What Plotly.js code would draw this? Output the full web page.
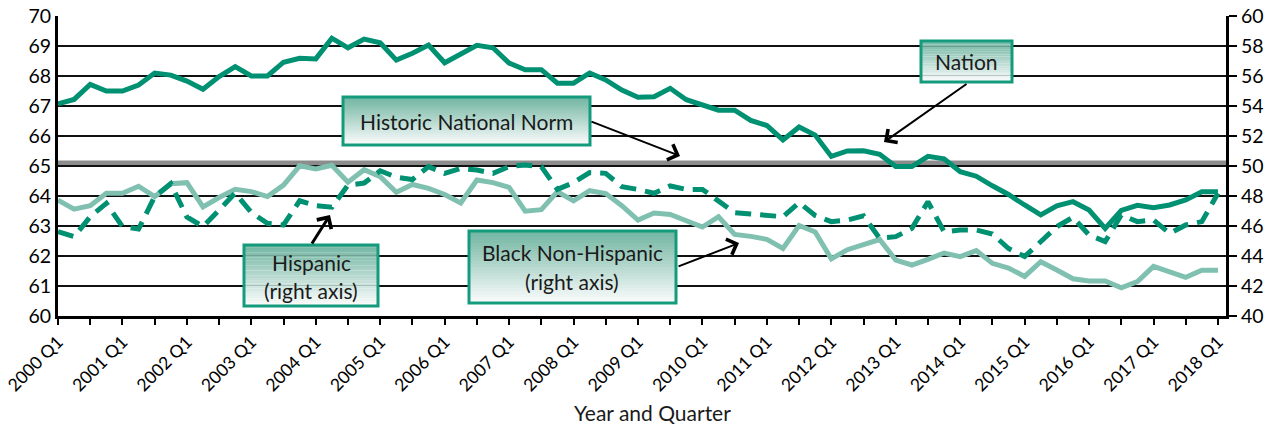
<!DOCTYPE html>
<html>
<head>
<meta charset="utf-8">
<script src="https://cdn.plot.ly/plotly-3.0.1.min.js"></script>
<style>
  html, body { margin: 0; padding: 0; background: #fff; }
  #chart { width: 1271px; height: 430px; }
</style>
</head>
<body>
<div id="chart"></div>
<script>
// ---------- DATA ----------
const quarters = [
  "2000 Q1","2000 Q2","2000 Q3","2000 Q4","2001 Q1","2001 Q2","2001 Q3","2001 Q4",
  "2002 Q1","2002 Q2","2002 Q3","2002 Q4","2003 Q1","2003 Q2","2003 Q3","2003 Q4",
  "2004 Q1","2004 Q2","2004 Q3","2004 Q4","2005 Q1","2005 Q2","2005 Q3","2005 Q4",
  "2006 Q1","2006 Q2","2006 Q3","2006 Q4","2007 Q1","2007 Q2","2007 Q3","2007 Q4",
  "2008 Q1","2008 Q2","2008 Q3","2008 Q4","2009 Q1","2009 Q2","2009 Q3","2009 Q4",
  "2010 Q1","2010 Q2","2010 Q3","2010 Q4","2011 Q1","2011 Q2","2011 Q3","2011 Q4",
  "2012 Q1","2012 Q2","2012 Q3","2012 Q4","2013 Q1","2013 Q2","2013 Q3","2013 Q4",
  "2014 Q1","2014 Q2","2014 Q3","2014 Q4","2015 Q1","2015 Q2","2015 Q3","2015 Q4",
  "2016 Q1","2016 Q2","2016 Q3","2016 Q4","2017 Q1","2017 Q2","2017 Q3","2017 Q4",
  "2018 Q1"
];

// Nation (left axis)
const nation = [
  67.07, 67.22, 67.72, 67.50, 67.50, 67.70, 68.10, 68.03, 67.83, 67.56,
  67.98, 68.31, 68.00, 68.00, 68.46, 68.59, 68.57, 69.26, 68.94, 69.23,
  69.11, 68.53, 68.76, 69.03, 68.44, 68.73, 69.02, 68.94, 68.43, 68.21,
  68.21, 67.76, 67.76, 68.10, 67.87, 67.53, 67.29, 67.31, 67.59, 67.21,
  67.05, 66.86, 66.86, 66.52, 66.35, 65.87, 66.30, 66.03, 65.32, 65.50,
  65.51, 65.39, 64.98, 64.98, 65.32, 65.24, 64.81, 64.66, 64.34, 64.05,
  63.70, 63.37, 63.67, 63.81, 63.53, 62.92, 63.52, 63.69, 63.61, 63.70,
  63.87, 64.14, 64.14
];

// Black Non-Hispanic (right axis)
const blackNonHispanic = [
  47.73, 47.12, 47.35, 48.18, 48.18, 48.65, 47.96, 48.82, 48.89, 47.27,
  47.90, 48.45, 48.29, 47.96, 48.73, 50.01, 49.80, 50.05, 48.92, 49.75,
  49.29, 48.25, 48.77, 48.51, 48.10, 47.53, 49.07, 48.89, 48.57, 46.99,
  47.09, 48.29, 47.68, 48.35, 48.16, 47.35, 46.40, 46.87, 46.77, 46.35,
  45.93, 46.62, 45.44, 45.31, 45.11, 44.51, 46.03, 45.60, 43.81, 44.42,
  44.73, 45.10, 43.73, 43.40, 43.78, 44.20, 43.96, 44.36, 43.51, 43.20,
  42.64, 43.62, 43.07, 42.48, 42.33, 42.33, 41.88, 42.30, 43.31, 42.96,
  42.58, 43.05, 43.05
];

// Hispanic (right axis)
const hispanic = [
  45.62, 45.29, 46.62, 47.51, 45.96, 45.80, 47.96, 48.82, 46.60, 45.96,
  47.07, 48.20, 46.90, 46.18, 46.07, 47.68, 47.35, 47.25, 48.73, 48.86,
  49.68, 49.25, 49.10, 49.96, 49.51, 49.84, 49.73, 49.51, 49.96, 50.07,
  49.96, 48.44, 48.89, 49.56, 49.51, 48.62, 48.44, 48.18, 48.67, 48.44,
  48.44, 47.62, 46.89, 46.80, 46.73, 46.62, 47.56, 46.70, 46.29, 46.40,
  46.67, 45.18, 45.29, 45.84, 47.62, 45.62, 45.73, 45.73, 45.47, 44.50,
  43.96, 44.96, 45.96, 46.58, 45.40, 44.96, 46.73, 46.29, 46.40, 45.51,
  46.07, 46.29, 48.18
];

const historicNationalNorm = 65.1;

const leftAxisTicks = [60, 61, 62, 63, 64, 65, 66, 67, 68, 69, 70];
const rightAxisTicks = [40, 42, 44, 46, 48, 50, 52, 54, 56, 58, 60];

// ---------- STYLE ----------
const FONT = "Lato, 'Open Sans', sans-serif";
const TEAL = "rgb(0,144,114)";
const LIGHT_TEAL = "rgb(128,192,176)";
const BOX_BORDER = "rgb(20,155,125)";

const W = 1271, H = 430;
const M = {l: 58, r: 45, t: 16, b: 114};
const PW = W - M.l - M.r, PH = H - M.t - M.b;
const px2x = px => (px - M.l) / PW;
const py2y = py => (H - M.b - py) / PH;

// x ticks every 2 quarters, labelled every year
const tickVals = quarters.filter((q, i) => i % 2 === 0);
const tickText = quarters.map((q, i) => (i % 4 === 0 ? q : "")).filter((q, i) => i % 2 === 0);

const traces = [
  {
    x: quarters, y: blackNonHispanic, yaxis: "y2", type: "scatter", mode: "lines",
    name: "Black Non-Hispanic", line: {color: LIGHT_TEAL, width: 5}, hoverinfo: "skip"
  },
  {
    x: quarters, y: hispanic, yaxis: "y2", type: "scatter", mode: "lines",
    name: "Hispanic", line: {color: TEAL, width: 5, dash: "16px,9px"}, hoverinfo: "skip"
  },
  {
    x: quarters, y: nation, yaxis: "y", type: "scatter", mode: "lines",
    name: "Nation", line: {color: TEAL, width: 5}, hoverinfo: "skip"
  }
];

const shapes = [
  {
    type: "line", xref: "paper", yref: "y", x0: 0, x1: 1,
    y0: historicNationalNorm, y1: historicNationalNorm,
    line: {color: "rgb(140,140,140)", width: 5}, layer: "between"
  }
];

// gradient boxes (pixel boxes -> paper coords)
function gradientBox(x0, y0, x1, y1) {
  const n = 24;
  const top = [112, 180, 161], bot = [252, 253, 253];
  for (let k = 0; k < n; k++) {
    const t = (k + 0.5) / n;
    const c = top.map((v, j) => Math.round(v + (bot[j] - v) * t));
    shapes.push({
      type: "rect", xref: "paper", yref: "paper", layer: "above",
      x0: px2x(x0), x1: px2x(x1),
      y0: py2y(y0 + (y1 - y0) * (k + 1) / n) - 0.0005, y1: py2y(y0 + (y1 - y0) * k / n),
      fillcolor: `rgb(${c[0]},${c[1]},${c[2]})`, line: {width: 0}
    });
  }
  shapes.push({
    type: "rect", xref: "paper", yref: "paper", layer: "above",
    x0: px2x(x0), x1: px2x(x1), y0: py2y(y1), y1: py2y(y0),
    fillcolor: "rgba(0,0,0,0)", line: {color: BOX_BORDER, width: 3}
  });
}
gradientBox(343, 97, 590, 145);   // Historic National Norm
gradientBox(921, 41, 1012, 82);   // Nation
gradientBox(244, 245, 378, 306);  // Hispanic
gradientBox(469, 231, 676, 303);  // Black Non-Hispanic

const annotations = [];
function label(text, cx, cy, size) {
  annotations.push({
    xref: "paper", yref: "paper", x: px2x(cx), y: py2y(cy),
    xanchor: "center", yanchor: "middle", text: text, showarrow: false,
    font: {family: FONT, size: size || 21, color: "#1a1a1a"}
  });
}
function arrow(hx, hy, tx, ty, w) {
  annotations.push({
    xref: "paper", yref: "paper", x: px2x(hx), y: py2y(hy),
    ax: tx - hx, ay: ty - hy, text: "", showarrow: true,
    arrowhead: 4, arrowsize: w > 2 ? 1.1 : 1.6, arrowwidth: w, arrowcolor: "#000", standoff: 0
  });
}
label("Historic National Norm", 466, 121);
label("Nation", 966, 61);
label("Hispanic", 311, 262);
label("(right axis)", 311, 290);
label("Black Non-Hispanic", 572, 252);
label("(right axis)", 572, 281);
label("Year and Quarter", 652, 412, 21);

arrow(680, 156, 590, 121, 2);
arrow(884, 142, 968, 83, 2);
arrow(330, 215, 311, 245, 3);
arrow(739, 243, 677, 267, 2);

const layout = {
  width: W, height: H,
  margin: M,
  paper_bgcolor: "#fff", plot_bgcolor: "#fff",
  showlegend: false,
  font: {family: FONT, color: "#000"},
  xaxis: {
    type: "category", categoryorder: "array", categoryarray: quarters,
    range: [0, 72.5],
    tickmode: "array", tickvals: tickVals, ticktext: tickText,
    tickangle: -45, tickfont: {family: FONT, size: 17.5, color: "#000"},
    ticks: "outside", ticklen: 6, tickwidth: 2, tickcolor: "#000",
    showline: true, linecolor: "#000", linewidth: 3,
    showgrid: false, zeroline: false
  },
  yaxis: {
    range: [60, 70], tickmode: "array", tickvals: leftAxisTicks,
    tickfont: {family: FONT, size: 19.5, color: "#000"},
    ticks: "", showline: true, linecolor: "#000", linewidth: 3,
    showgrid: true, gridcolor: "#111", gridwidth: 2, zeroline: false
  },
  yaxis2: {
    overlaying: "y", side: "right",
    range: [40, 60], tickmode: "array", tickvals: rightAxisTicks,
    tickfont: {family: FONT, size: 19.5, color: "#000"},
    ticks: "outside", ticklen: 8, tickwidth: 2, tickcolor: "#000",
    showline: true, linecolor: "#000", linewidth: 3,
    showgrid: false, zeroline: false
  },
  shapes: shapes,
  annotations: annotations
};

Plotly.newPlot("chart", traces, layout, {displayModeBar: false, staticPlot: true});
</script>
</body>
</html>
